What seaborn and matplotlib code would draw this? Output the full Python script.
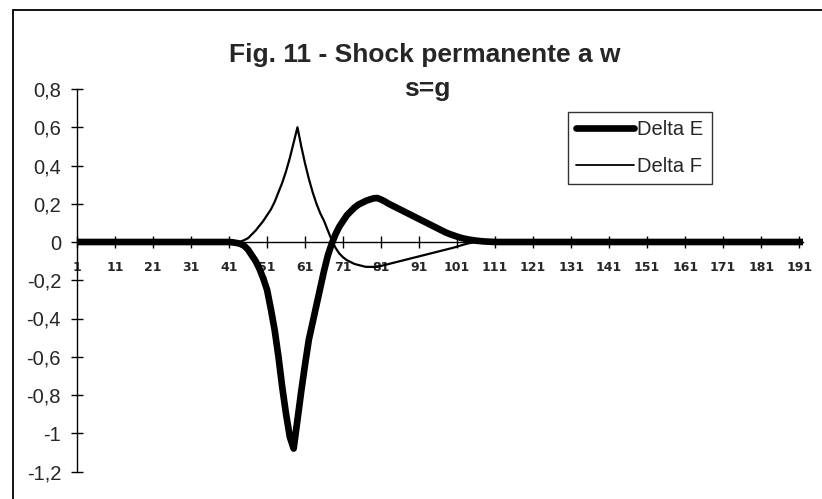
import numpy as np
import pandas as pd
import matplotlib
matplotlib.use("Agg")
import matplotlib.pyplot as plt
from matplotlib.lines import Line2D
import seaborn as sns

# ---- data ----
n_categories = 192
delta_e_active_start = 42
delta_e_active = [
    -0.002, -0.005, -0.01, -0.02, -0.04, -0.07, -0.10, -0.14, -0.19, -0.25,   # 42-51
    -0.35, -0.46, -0.60, -0.76, -0.90, -1.02, -1.08, -0.93, -0.78, -0.64,     # 52-61
    -0.51, -0.42, -0.33, -0.24, -0.15, -0.07, -0.01, 0.04, 0.08, 0.11,        # 62-71
    0.14, 0.16, 0.18, 0.195, 0.205, 0.215, 0.222, 0.228, 0.23, 0.222,         # 72-81
    0.212, 0.20, 0.19, 0.18, 0.17, 0.16, 0.15, 0.14, 0.13, 0.12,              # 82-91
    0.11, 0.10, 0.09, 0.08, 0.07, 0.06, 0.05, 0.042, 0.035, 0.028,            # 92-101
    0.022, 0.017, 0.013, 0.01, 0.007, 0.005, 0.003, 0.002, 0.001,             # 102-110
]
delta_f_active_start = 44
delta_f_active = [
    0.002, 0.01, 0.02, 0.04, 0.06, 0.085, 0.11, 0.14, 0.17, 0.21,             # 44-53
    0.26, 0.31, 0.37, 0.44, 0.52, 0.60, 0.50, 0.41, 0.33, 0.26,               # 54-63
    0.20, 0.15, 0.11, 0.06, 0.01, -0.03, -0.06, -0.08, -0.095, -0.105,        # 64-73
    -0.115, -0.12, -0.125, -0.13, -0.13, -0.13, -0.13, -0.125, -0.12, -0.115, # 74-83
    -0.11, -0.105, -0.10, -0.095, -0.09, -0.085, -0.08, -0.075, -0.07, -0.065,# 84-93
    -0.06, -0.055, -0.05, -0.045, -0.04, -0.035, -0.03, -0.024, -0.018, -0.012,# 94-103
    -0.007, -0.003, 0.0,                                                      # 104-106
]
categories = list(range(1, n_categories + 1))
delta_e = ([0.0] * (delta_e_active_start - 1) + delta_e_active
           + [0.0] * (n_categories - (delta_e_active_start - 1) - len(delta_e_active)))
delta_f = ([0.0] * (delta_f_active_start - 1) + delta_f_active
           + [0.0] * (n_categories - (delta_f_active_start - 1) - len(delta_f_active)))

x_tick_values = list(range(1, 192, 10))
y_tick_values = [0.8, 0.6, 0.4, 0.2, 0, -0.2, -0.4, -0.6, -0.8, -1, -1.2]
y_tick_labels = ["0,8", "0,6", "0,4", "0,2", "0", "-0,2", "-0,4", "-0,6", "-0,8", "-1", "-1,2"]
series_names = ["Delta E", "Delta F"]
title_line1 = "Fig. 11 - Shock permanente a w"
title_line2 = "s=g"

df = pd.DataFrame({
    "cat": categories * 2,
    "value": delta_e + delta_f,
    "series": [series_names[0]] * n_categories + [series_names[1]] * n_categories,
})

# ---- drawing ----
sns.set_style("white")
plt.rcParams["font.family"] = ["Liberation Sans", "DejaVu Sans"]

W, H = 822, 499
fig = plt.figure(figsize=(W / 100, H / 100), dpi=100)
left_px, right_px, top_px, bot_px = 77, 803, 89, 471.5
ax = fig.add_axes([left_px / W, 1 - bot_px / H, (right_px - left_px) / W, (bot_px - top_px) / H])

sns.lineplot(data=df, x="cat", y="value", hue="series", size="series",
             sizes={series_names[0]: 4.8, series_names[1]: 1.6},
             palette={series_names[0]: "black", series_names[1]: "black"},
             ax=ax, legend=False, solid_capstyle="round")

ax.set_xlim(1, n_categories)
ax.set_ylim(-1.2, 0.8)
ax.set_xlabel("")
ax.set_ylabel("")

for s in ["top", "right"]:
    ax.spines[s].set_visible(False)
ax.spines["bottom"].set_position(("data", 0))
ax.spines["left"].set_position(("data", 1))
for s in ["left", "bottom"]:
    ax.spines[s].set_color("black")
    ax.spines[s].set_linewidth(1.0)

ax.set_xticks(x_tick_values)
ax.set_xticklabels([str(v) for v in x_tick_values], fontsize=9, fontweight="bold",
                   family=["DejaVu Sans"])
ax.set_yticks(y_tick_values)
ax.set_yticklabels(y_tick_labels, fontsize=14.5)
ax.tick_params(axis="x", bottom=True, direction="inout", length=8, width=1, pad=10,
               color="black")
ax.tick_params(axis="y", left=True, direction="inout", length=9, width=1, pad=7,
               color="black")
ax.grid(False)

# legend
handles = [Line2D([], [], color="black", lw=4.8, solid_capstyle="round"),
           Line2D([], [], color="black", lw=1.3)]
leg = fig.legend(handles, series_names, loc="upper left",
                 bbox_to_anchor=(568 / W, 1 - 112 / H), fontsize=14.5,
                 frameon=True, fancybox=False, shadow=False,
                 handlelength=2.9, handletextpad=0.15, borderpad=0.4,
                 labelspacing=0.9, borderaxespad=0)
leg.get_frame().set_edgecolor("black")
leg.get_frame().set_linewidth(1.0)

# titles
fig.text(425 / W, 1 - 62 / H, title_line1, ha="center", va="baseline",
         fontsize=19, fontweight="bold")
fig.text(427 / W, 1 - 96 / H, title_line2, ha="center", va="baseline",
         fontsize=19, fontweight="bold")

# outer chart frame (left and top edges)
fig.add_artist(Line2D([13 / W, 13 / W], [0, 1 - 10 / H], transform=fig.transFigure,
                      color="black", lw=1.3))
fig.add_artist(Line2D([13 / W, 1], [1 - 10 / H, 1 - 10 / H], transform=fig.transFigure,
                      color="black", lw=1.3))

fig.savefig("out.png", dpi=100, facecolor="white")
